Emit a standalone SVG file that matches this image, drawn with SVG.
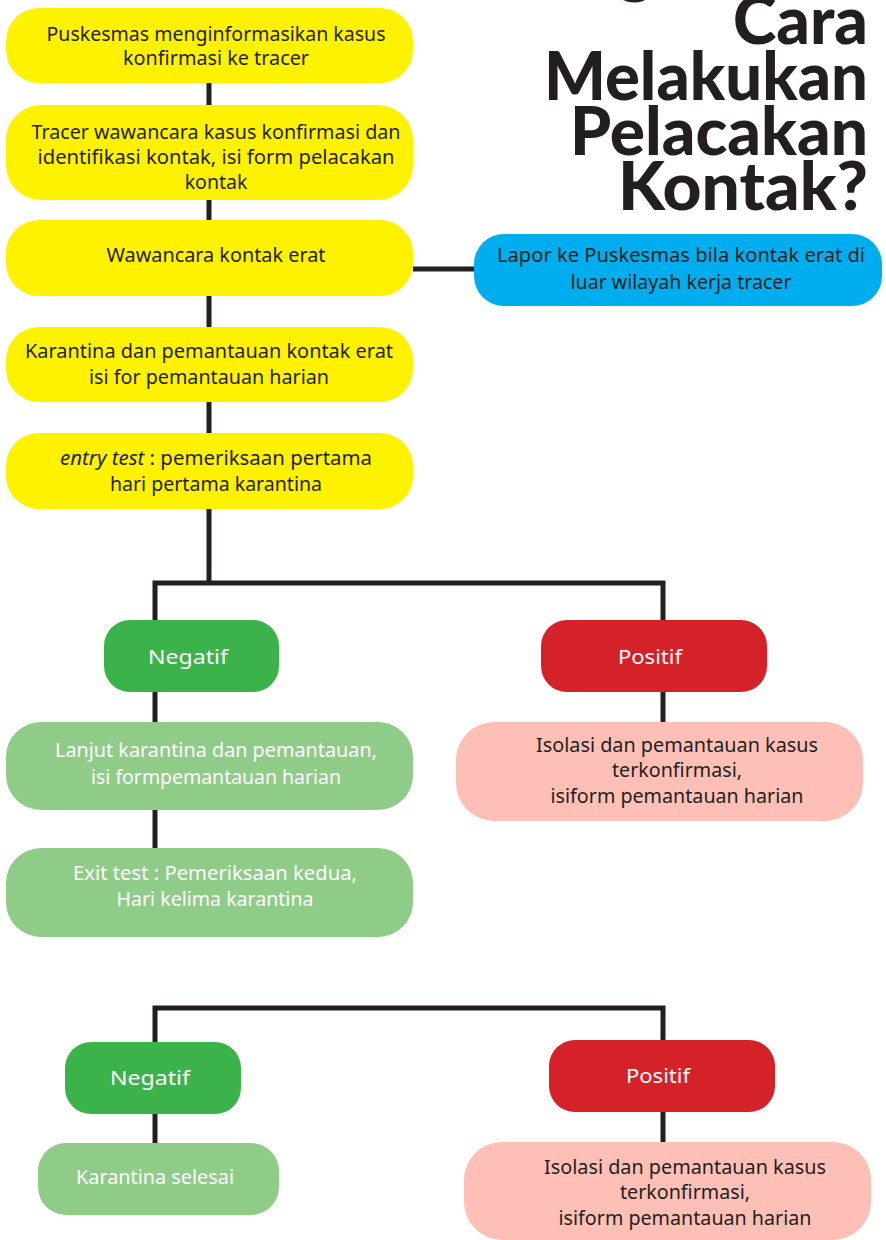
<svg xmlns="http://www.w3.org/2000/svg" width="886" height="1240" viewBox="0 0 886 1240">
<style>
.t{font-family:"Noto Sans","Open Sans",sans-serif;font-size:19.5px;fill:#231F20;text-anchor:middle}
.c{font-family:"Noto Sans","Open Sans",sans-serif;font-size:20px;fill:#231F20;text-anchor:middle}
.w{fill:#FFFFFF}
.title{font-family:"Lato","DejaVu Sans",sans-serif;font-weight:900;font-size:67px;fill:#231F20;text-anchor:end}
.ln{stroke:#231F20;stroke-width:5;fill:none}
.y{fill:#FFF200}.b{fill:#00AEEF}.g{fill:#3BB34A}.r{fill:#D52229}.lg{fill:#8FCC88}.p{fill:#FEBFB6}
</style>
<g id="connectors">
<path class="ln" d="M209 83V583"/>
<path class="ln" d="M413 269H474"/>
<path class="ln" d="M155 620V583H663V620"/>
<path class="ln" d="M155 692V848"/>
<path class="ln" d="M663 692V722"/>
<path class="ln" d="M155 1042V1008H663V1040"/>
<path class="ln" d="M155 1114V1143"/>
<path class="ln" d="M663 1112V1142"/>
</g>
<g id="title">
<text class="title" x="868" y="-10">Bagaimana</text>
<text class="title" x="868" y="44" textLength="135" lengthAdjust="spacingAndGlyphs">Cara</text>
<text class="title" x="868" y="100" textLength="324" lengthAdjust="spacingAndGlyphs">Melakukan</text>
<text class="title" x="868" y="155" textLength="298" lengthAdjust="spacingAndGlyphs">Pelacakan</text>
<text class="title" x="868" y="210" textLength="250" lengthAdjust="spacingAndGlyphs">Kontak?</text>
</g>
<g id="n1"><rect class="y" x="6" y="8" width="407" height="75" rx="33"/>
<text class="t" x="216" y="41" textLength="339" lengthAdjust="spacingAndGlyphs">Puskesmas menginformasikan kasus</text>
<text class="t" x="216" y="65" textLength="186" lengthAdjust="spacingAndGlyphs">konfirmasi ke tracer</text></g>
<g id="n2"><rect class="y" x="6" y="105" width="407" height="95" rx="35"/>
<text class="t" x="216" y="139" textLength="369" lengthAdjust="spacingAndGlyphs">Tracer wawancara kasus konfirmasi dan</text>
<text class="t" x="216" y="164" textLength="357" lengthAdjust="spacingAndGlyphs">identifikasi kontak, isi form pelacakan</text>
<text class="t" x="216" y="189">kontak</text></g>
<g id="n3"><rect class="y" x="6" y="220" width="407" height="76" rx="33"/>
<text class="t" x="216" y="262" textLength="219" lengthAdjust="spacingAndGlyphs">Wawancara kontak erat</text></g>
<g id="n4"><rect class="y" x="6" y="327" width="407" height="75" rx="33"/>
<text class="t" x="209" y="358" textLength="368" lengthAdjust="spacingAndGlyphs">Karantina dan pemantauan kontak erat</text>
<text class="t" x="209" y="384" textLength="240" lengthAdjust="spacingAndGlyphs">isi for pemantauan harian</text></g>
<g id="n5"><rect class="y" x="6" y="433" width="407" height="76" rx="33"/>
<text class="t" x="216" y="465" textLength="312" lengthAdjust="spacingAndGlyphs"><tspan font-style="italic">entry test</tspan> : pemeriksaan pertama</text>
<text class="t" x="216" y="491" textLength="212" lengthAdjust="spacingAndGlyphs">hari pertama karantina</text></g>
<g id="n6"><rect class="b" x="474" y="234" width="408" height="72" rx="30"/>
<text class="t" x="681" y="262" textLength="368" lengthAdjust="spacingAndGlyphs">Lapor ke Puskesmas bila kontak erat di</text>
<text class="t" x="681" y="289" textLength="221" lengthAdjust="spacingAndGlyphs">luar wilayah kerja tracer</text></g>
<g id="n7"><rect class="g" x="104" y="620" width="175" height="72" rx="26"/>
<text class="c w" x="188" y="664" textLength="80" lengthAdjust="spacingAndGlyphs">Negatif</text></g>
<g id="n8"><rect class="r" x="541" y="620" width="226" height="72" rx="26"/>
<text class="c w" x="650" y="664" textLength="64" lengthAdjust="spacingAndGlyphs">Positif</text></g>
<g id="n9"><rect class="lg" x="6" y="722" width="407" height="88" rx="35"/>
<text class="c w" x="216" y="757" textLength="322" lengthAdjust="spacingAndGlyphs">Lanjut karantina dan pemantauan,</text>
<text class="c w" x="216" y="784" textLength="250" lengthAdjust="spacingAndGlyphs">isi formpemantauan harian</text></g>
<g id="n10"><rect class="lg" x="6" y="848" width="407" height="89" rx="35"/>
<text class="c w" x="215" y="880" textLength="284" lengthAdjust="spacingAndGlyphs">Exit test : Pemeriksaan kedua,</text>
<text class="c w" x="215" y="906" textLength="197" lengthAdjust="spacingAndGlyphs">Hari kelima karantina</text></g>
<g id="n11"><rect class="p" x="456" y="722" width="407" height="99" rx="38"/>
<text class="c" x="677" y="752" textLength="282" lengthAdjust="spacingAndGlyphs">Isolasi dan pemantauan kasus</text>
<text class="c" x="677" y="777" textLength="130" lengthAdjust="spacingAndGlyphs">terkonfirmasi,</text>
<text class="c" x="677" y="803" textLength="253" lengthAdjust="spacingAndGlyphs">isiform pemantauan harian</text></g>
<g id="n12"><rect class="g" x="65" y="1042" width="176" height="72" rx="26"/>
<text class="c w" x="150" y="1085" textLength="80" lengthAdjust="spacingAndGlyphs">Negatif</text></g>
<g id="n13"><rect class="r" x="549" y="1040" width="226" height="72" rx="26"/>
<text class="c w" x="658" y="1083" textLength="64" lengthAdjust="spacingAndGlyphs">Positif</text></g>
<g id="n14"><rect class="lg" x="38" y="1143" width="241" height="72" rx="28"/>
<text class="c w" x="155" y="1184" textLength="158" lengthAdjust="spacingAndGlyphs">Karantina selesai</text></g>
<g id="n15"><rect class="p" x="464" y="1142" width="407" height="98" rx="38"/>
<text class="c" x="685" y="1174" textLength="282" lengthAdjust="spacingAndGlyphs">Isolasi dan pemantauan kasus</text>
<text class="c" x="685" y="1199" textLength="130" lengthAdjust="spacingAndGlyphs">terkonfirmasi,</text>
<text class="c" x="685" y="1225" textLength="253" lengthAdjust="spacingAndGlyphs">isiform pemantauan harian</text></g>
</svg>
